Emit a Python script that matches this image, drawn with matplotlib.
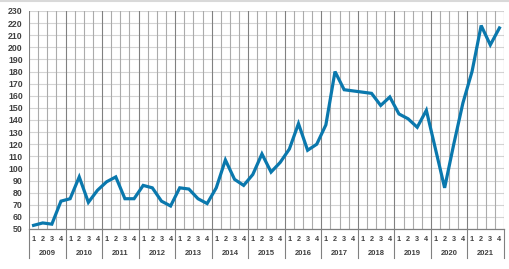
import matplotlib
matplotlib.use("Agg")
import matplotlib.pyplot as plt
import matplotlib.transforms as mtransforms
import numpy as np

years = ["2009", "2010", "2011", "2012", "2013", "2014", "2015",
         "2016", "2017", "2018", "2019", "2020", "2021"]
quarters = ["1", "2", "3", "4"]
values = [53, 55, 54, 73,
          75, 93, 72, 82,
          89, 93, 75, 75,
          86, 84, 73, 69,
          84, 83, 75, 71,
          84, 107, 91, 86,
          95, 112, 97, 105,
          116, 137, 115, 120,
          136, 180, 165, 164,
          163, 162, 152, 159,
          145, 141, 134, 148,
          116, 84, 120, 154,
          180, 218, 202, 216]
yticks = list(range(50, 231, 10))

plt.rcParams['font.family'] = ['Liberation Sans', 'DejaVu Sans']

fig = plt.figure(figsize=(5.10, 2.69), dpi=100)
ax = fig.add_axes([29/510, 1-229/269, (504-29)/510, (229-11)/269])

n = len(years) * len(quarters)
x = np.arange(n)

ax.set_xlim(-0.5, n - 0.5)
ax.set_ylim(yticks[0], yticks[-1])

# horizontal grid
ax.set_yticks(yticks)
ax.yaxis.grid(True, color='#d4d4d4', linewidth=0.8)
ax.set_axisbelow(True)

# vertical grid at quarter boundaries
for b in range(n + 1):
    xb = b - 0.5
    if b % 4 == 0:
        ax.axvline(xb, color='#808080', linewidth=0.8, zorder=1)
    else:
        ax.axvline(xb, color='#ababab', linewidth=0.8, zorder=1)

ax.plot(x, values, color='#0a78ad', linewidth=2.3, solid_joinstyle='miter', zorder=3)

for s in ['top', 'right', 'left']:
    ax.spines[s].set_visible(False)
ax.spines['bottom'].set_color('#808080')
ax.spines['bottom'].set_linewidth(0.9)

ax.tick_params(axis='y', length=0, pad=4.5, labelsize=6.3, labelcolor='#404040')
for lab in ax.get_yticklabels():
    lab.set_fontweight('bold')

ax.set_xticks(x)
ax.set_xticklabels(quarters * len(years))
ax.tick_params(axis='x', length=0, pad=5, labelsize=5.2, labelcolor='#404040')
for lab in ax.get_xticklabels():
    lab.set_fontweight('bold')

trans = mtransforms.blended_transform_factory(ax.transData, ax.transAxes)
for i, yr in enumerate(years):
    ax.text(i * 4 + 1.5, -0.111, yr, transform=trans, ha='center', va='center',
            fontsize=5.5, fontweight='bold', color='#404040')
for i in range(len(years) + 1):
    xb = i * 4 - 0.5
    ax.plot([xb, xb], [0, -0.135], transform=trans, color='#808080',
            linewidth=0.8, clip_on=False)

# faint top border line
fig.add_artist(plt.Line2D([0, 1], [0.997, 0.997], transform=fig.transFigure,
                          color='#d9d9d9', linewidth=1.5))

fig.savefig("out.png", dpi=100)
